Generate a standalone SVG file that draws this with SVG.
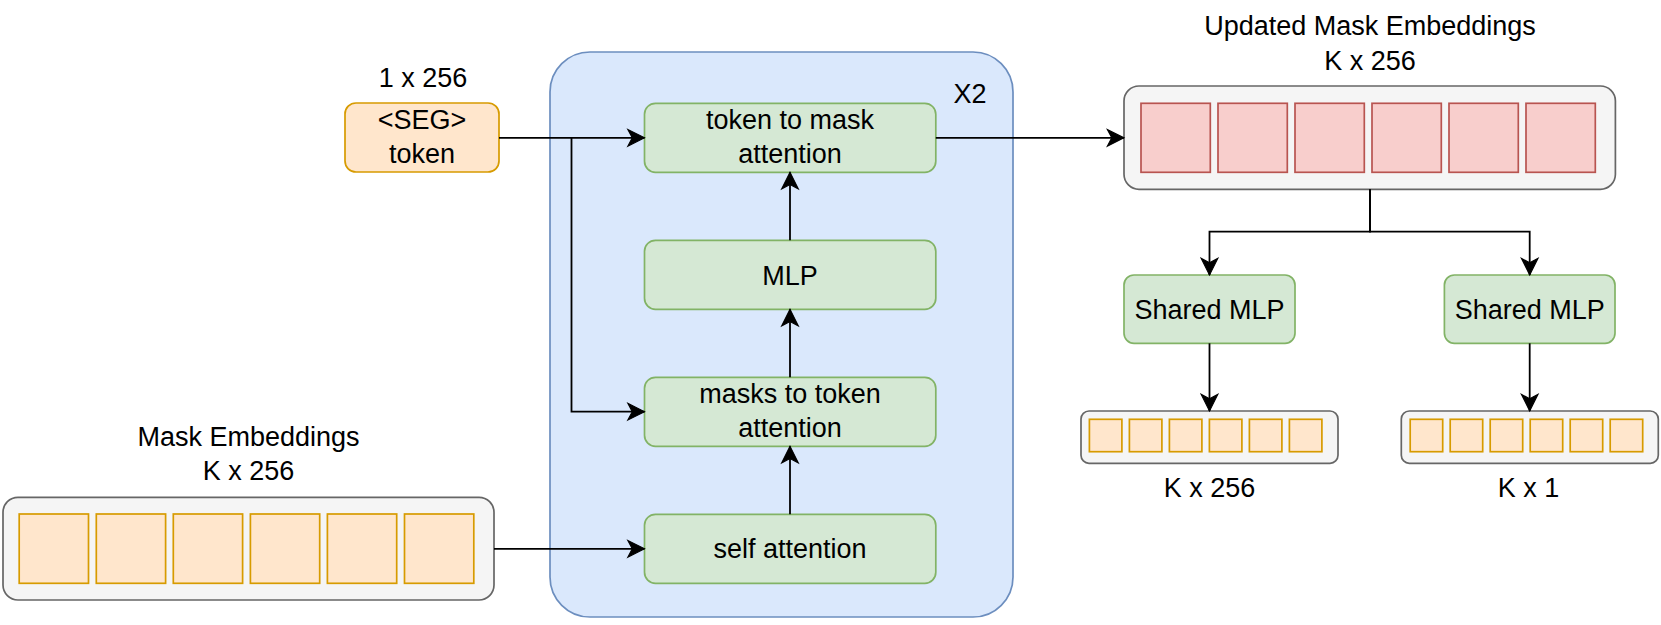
<svg xmlns="http://www.w3.org/2000/svg" width="1661" height="625" viewBox="0 0 1661 625">
<style>
text{font-family:"Liberation Sans",Arial,sans-serif;font-size:27px;fill:#000;text-anchor:middle}
.green{fill:#d5e8d4;stroke:#82b366;stroke-width:1.7}
.blue{fill:#dae8fc;stroke:#6c8ebf;stroke-width:1.7}
.grey{fill:#f5f5f5;stroke:#666666;stroke-width:1.7}
.orange{fill:#ffe6cc;stroke:#d79b00;stroke-width:1.7}
.red{fill:#f8cecc;stroke:#b85450;stroke-width:1.7}
.edge{fill:none;stroke:#000;stroke-width:1.8;marker-end:url(#arr)}
</style>
<defs>
<marker id="arr" markerUnits="userSpaceOnUse" markerWidth="20" markerHeight="20" viewBox="-16 -9 17 18" refX="0" refY="0" orient="auto">
<path d="M0,0 L-15,-7.5 L-11,0 L-15,7.5 Z" fill="#000" stroke="#000" stroke-width="1"/>
</marker>
</defs>

<g id="block">
<rect class="blue" x="550" y="52" width="463" height="565" rx="40" ry="40"/>
<text x="970" y="103">X2</text>
</g>

<g id="seg-token">
<text x="423" y="87">1 x 256</text>
<rect class="orange" x="345" y="103" width="154" height="69" rx="11" ry="11"/>
<text x="422" y="129">&lt;SEG&gt;</text>
<text x="422" y="163">token</text>
</g>

<g id="token-to-mask">
<rect class="green" x="644.5" y="103.3" width="291.3" height="69" rx="11" ry="11"/>
<text x="790" y="129">token to mask</text>
<text x="790" y="163">attention</text>
</g>

<g id="mlp">
<rect class="green" x="644.5" y="240.3" width="291.3" height="69" rx="11" ry="11"/>
<text x="790" y="284.5">MLP</text>
</g>

<g id="masks-to-token">
<rect class="green" x="644.5" y="377.3" width="291.3" height="69" rx="11" ry="11"/>
<text x="790" y="403.2">masks to token</text>
<text x="790" y="437.2">attention</text>
</g>

<g id="self-attention">
<rect class="green" x="644.5" y="514.3" width="291.3" height="69" rx="11" ry="11"/>
<text x="790" y="558">self attention</text>
</g>

<g id="mask-embeddings">
<text x="248.5" y="446">Mask Embeddings</text>
<text x="248.5" y="480">K x 256</text>
<rect class="grey" x="3" y="497.3" width="491" height="102.7" rx="15" ry="15"/>
<rect class="orange" x="19.2" y="514" width="69.3" height="69.3"/>
<rect class="orange" x="96.3" y="514" width="69.3" height="69.3"/>
<rect class="orange" x="173.3" y="514" width="69.3" height="69.3"/>
<rect class="orange" x="250.4" y="514" width="69.3" height="69.3"/>
<rect class="orange" x="327.4" y="514" width="69.3" height="69.3"/>
<rect class="orange" x="404.5" y="514" width="69.3" height="69.3"/>
</g>

<g id="updated-mask-embeddings">
<text x="1370" y="35">Updated Mask Embeddings</text>
<text x="1370" y="70">K x 256</text>
<rect class="grey" x="1124" y="86" width="491.4" height="103.3" rx="15" ry="15"/>
<rect class="red" x="1141" y="103.3" width="69.3" height="69"/>
<rect class="red" x="1218" y="103.3" width="69.3" height="69"/>
<rect class="red" x="1295" y="103.3" width="69.3" height="69"/>
<rect class="red" x="1372" y="103.3" width="69.3" height="69"/>
<rect class="red" x="1449" y="103.3" width="69.3" height="69"/>
<rect class="red" x="1526" y="103.3" width="69.3" height="69"/>
</g>

<g id="shared-mlp-1">
<rect class="green" x="1124" y="275" width="171" height="68.3" rx="10" ry="10"/>
<text x="1209.5" y="318.5">Shared MLP</text>
</g>

<g id="shared-mlp-2">
<rect class="green" x="1444.4" y="275" width="170.6" height="68.3" rx="10" ry="10"/>
<text x="1529.7" y="318.5">Shared MLP</text>
</g>

<g id="out-k256">
<rect class="grey" x="1081" y="411" width="257" height="52.3" rx="8" ry="8"/>
<rect class="orange" x="1089.4" y="419.3" width="32.5" height="32.4"/>
<rect class="orange" x="1129.4" y="419.3" width="32.5" height="32.4"/>
<rect class="orange" x="1169.4" y="419.3" width="32.5" height="32.4"/>
<rect class="orange" x="1209.4" y="419.3" width="32.5" height="32.4"/>
<rect class="orange" x="1249.4" y="419.3" width="32.5" height="32.4"/>
<rect class="orange" x="1289.4" y="419.3" width="32.5" height="32.4"/>
<text x="1209.5" y="496.7">K x 256</text>
</g>

<g id="out-k1">
<rect class="grey" x="1401.3" y="411" width="257" height="52.3" rx="8" ry="8"/>
<rect class="orange" x="1410.2" y="419.3" width="32.5" height="32.4"/>
<rect class="orange" x="1450.2" y="419.3" width="32.5" height="32.4"/>
<rect class="orange" x="1490.2" y="419.3" width="32.5" height="32.4"/>
<rect class="orange" x="1530.2" y="419.3" width="32.5" height="32.4"/>
<rect class="orange" x="1570.2" y="419.3" width="32.5" height="32.4"/>
<rect class="orange" x="1610.2" y="419.3" width="32.5" height="32.4"/>
<text x="1528.5" y="496.7">K x 1</text>
</g>

<g id="connectors">
<path class="edge" d="M499,137.8 L644.5,137.8"/>
<path class="edge" d="M571.5,137.8 L571.5,411.7 L644.5,411.7"/>
<path class="edge" d="M494,548.8 L644.5,548.8"/>
<path class="edge" d="M790,514.3 L790,446.3"/>
<path class="edge" d="M790,377.3 L790,309.3"/>
<path class="edge" d="M790,240.3 L790,172.3"/>
<path class="edge" d="M935.8,137.8 L1124,137.8"/>
<path class="edge" d="M1370,189.3 L1370,231.7 L1209.5,231.7 L1209.5,275"/>
<path class="edge" d="M1370,189.3 L1370,231.7 L1529.7,231.7 L1529.7,275"/>
<path class="edge" d="M1209.5,343.3 L1209.5,411"/>
<path class="edge" d="M1529.7,343.3 L1529.7,411"/>
</g>
</svg>
